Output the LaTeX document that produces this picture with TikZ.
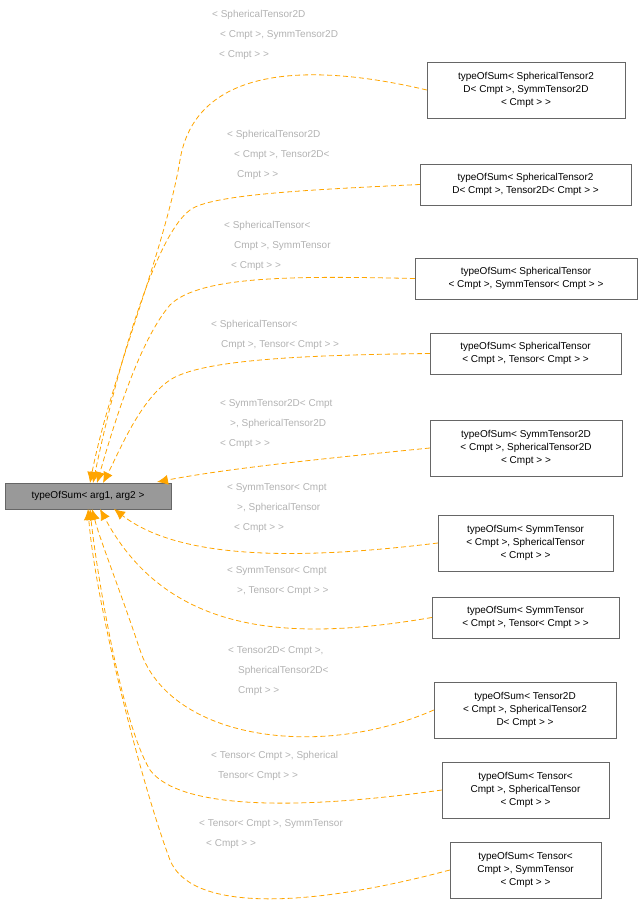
\documentclass[tikz,border=0pt]{standalone}
\usepackage{fontspec}
\setmainfont{Liberation Sans}
\usetikzlibrary{arrows.meta}
\definecolor{eorange}{HTML}{FFA500}
\begin{document}
\begin{tikzpicture}[x=1pt,y=-1pt,
 box/.style={draw=black!60,fill=white,align=center,font=\fontsize{10}{13}\selectfont,inner sep=3pt},
 lbl/.style={text=black!30,align=left,anchor=north west,font=\fontsize{10}{20}\selectfont,inner sep=0pt},
 edge/.style={draw=eorange,dash pattern=on 5pt off 3pt,-{Latex[length=11pt,width=10pt]},line width=0.8pt}]
\useasboundingbox (0,0) rectangle (642,907);
\node[box,fill=black!40,minimum width=166,minimum height=26] (b) at (88,496) {typeOfSum< arg1, arg2 >};
\node[box,minimum width=198,minimum height=56] (r1) at (526,90) {typeOfSum< SphericalTensor2\\D< Cmpt >, SymmTensor2D\\< Cmpt > >};
\node[box,minimum width=211,minimum height=41] (r2) at (525.5,184.5) {typeOfSum< SphericalTensor2\\D< Cmpt >, Tensor2D< Cmpt > >};
\node[box,minimum width=222,minimum height=41] (r3) at (526,278.5) {typeOfSum< SphericalTensor\\< Cmpt >, SymmTensor< Cmpt > >};
\node[box,minimum width=191,minimum height=41] (r4) at (525.5,353.5) {typeOfSum< SphericalTensor\\< Cmpt >, Tensor< Cmpt > >};
\node[box,minimum width=192,minimum height=56] (r5) at (526,448) {typeOfSum< SymmTensor2D\\< Cmpt >, SphericalTensor2D\\< Cmpt > >};
\node[box,minimum width=175,minimum height=56] (r6) at (525.5,543) {typeOfSum< SymmTensor\\< Cmpt >, SphericalTensor\\< Cmpt > >};
\node[box,minimum width=187,minimum height=41] (r7) at (525.5,617.5) {typeOfSum< SymmTensor\\< Cmpt >, Tensor< Cmpt > >};
\node[box,minimum width=182,minimum height=56] (r8) at (525,710) {typeOfSum< Tensor2D\\< Cmpt >, SphericalTensor2\\D< Cmpt > >};
\node[box,minimum width=167,minimum height=56] (r9) at (525.5,790) {typeOfSum< Tensor<\\Cmpt >, SphericalTensor\\< Cmpt > >};
\node[box,minimum width=151,minimum height=56] (r10) at (525.5,870) {typeOfSum< Tensor<\\Cmpt >, SymmTensor\\< Cmpt > >};
\coordinate (e1) at (90,483); \coordinate (e2) at (93,483); \coordinate (e3) at (97,483);
\coordinate (e4) at (103,483); \coordinate (e5) at (157,482); \coordinate (e6) at (114,509);
\coordinate (e7) at (100,509); \coordinate (e8) at (92,509); \coordinate (e9) at (90,509); \coordinate (e10) at (88,509);
\draw[edge] (r1.west) .. controls (300,60) and (195,70) .. (180,160) .. controls (165,250) and (110,380) .. (e1);
\draw[edge] (r2.west) .. controls (300,190) and (210,195) .. (190,210) .. controls (150,240) and (110,400) .. (e2);
\draw[edge] (r3.west) .. controls (300,276) and (200,275) .. (170,305) .. controls (140,340) and (115,420) .. (e3);
\draw[edge] (r4.west) .. controls (300,355) and (200,360) .. (170,380) .. controls (140,400) and (120,450) .. (e4);
\draw[edge] (r5.west) .. controls (330,458) and (230,468) .. (e5);
\draw[edge] (r6.west) .. controls (300,560) and (180,560) .. (e6);
\draw[edge] (r7.west) .. controls (300,640) and (170,640) .. (e7);
\draw[edge] (r8.west) .. controls (320,760) and (170,740) .. (140,650) .. controls (120,590) and (100,540) .. (e8);
\draw[edge] (r9.west) .. controls (300,810) and (180,810) .. (150,770) .. controls (120,720) and (95,560) .. (e9);
\draw[edge] (r10.west) .. controls (300,910) and (190,910) .. (170,860) .. controls (140,780) and (95,600) .. (e10);
\node[lbl] (l1) at (212,10) {< SphericalTensor2D\\ \hspace{8pt}< Cmpt >, SymmTensor2D\\ \hspace{7pt}< Cmpt > >};
\node[lbl] (l2) at (227,130) {< SphericalTensor2D\\ \hspace{7pt}< Cmpt >, Tensor2D<\\ \hspace{10pt}Cmpt > >};
\node[lbl] (l3) at (224,221) {< SphericalTensor<\\ \hspace{10pt}Cmpt >, SymmTensor\\ \hspace{7pt}< Cmpt > >};
\node[lbl] (l4) at (211,320) {< SphericalTensor<\\ \hspace{10pt}Cmpt >, Tensor< Cmpt > >};
\node[lbl] (l5) at (220,399) {< SymmTensor2D< Cmpt\\ \hspace{10pt}>, SphericalTensor2D\\ \hspace{0pt}< Cmpt > >};
\node[lbl] (l6) at (227,483) {< SymmTensor< Cmpt\\ \hspace{10pt}>, SphericalTensor\\ \hspace{7pt}< Cmpt > >};
\node[lbl] (l7) at (227,566) {< SymmTensor< Cmpt\\ \hspace{10pt}>, Tensor< Cmpt > >};
\node[lbl] (l8) at (228,646) {< Tensor2D< Cmpt >,\\ \hspace{10pt}SphericalTensor2D<\\ \hspace{10pt}Cmpt > >};
\node[lbl] (l9) at (211,751) {< Tensor< Cmpt >, Spherical\\ \hspace{7pt}Tensor< Cmpt > >};
\node[lbl] (l10) at (199,819) {< Tensor< Cmpt >, SymmTensor\\ \hspace{7pt}< Cmpt > >};
\end{tikzpicture}
\end{document}
